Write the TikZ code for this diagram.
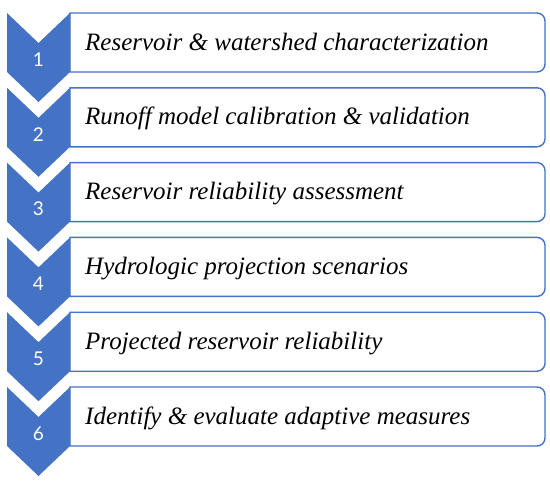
\documentclass[tikz,border=0pt]{standalone}
\usepackage{fontspec}
\newfontfamily\labfont{Liberation Serif}
\newfontfamily\numfont{Lato}
\definecolor{obl}{HTML}{4472C4}
\begin{document}
\begin{tikzpicture}[x=1pt,y=1pt,
  chev/.style={fill=obl,draw=none},
  stepbox/.style={draw=obl,line width=1.4pt,fill=white},
  lab/.style={anchor=base west,font=\labfont\itshape\fontsize{25}{28}\selectfont,inner sep=0pt},
  num/.style={anchor=center,font=\numfont\fontsize{19}{22}\selectfont,text=white,inner sep=0pt}]
\useasboundingbox (0,0) rectangle (550,-490);
\foreach \i/\t in {1/{Reservoir \& watershed characterization},
                   2/{Runoff model calibration \& validation},
                   3/{Reservoir reliability assessment},
                   4/{Hydrologic projection scenarios},
                   5/{Projected reservoir reliability},
                   6/{Identify \& evaluate adaptive measures}}{
  \pgfmathsetmacro{\y}{-13-74.8*(\i-1)}
  \draw[stepbox] (70,\y) -- (537,\y) arc[start angle=90,end angle=0,radius=8]
     -- (545,\y-51) arc[start angle=0,end angle=-90,radius=8] -- (70,\y-59) -- cycle;
  \fill[chev] (7,\y) -- (38.5,\y-30) -- (70,\y) -- (70,\y-59) -- (38.5,\y-89) -- (7,\y-59) -- cycle;
  \node[lab] (t\i) at (85,\y-37) {\t};
  \node[num] (n\i) at (38.5,\y-46.5) {\i};
}
\end{tikzpicture}
\end{document}
